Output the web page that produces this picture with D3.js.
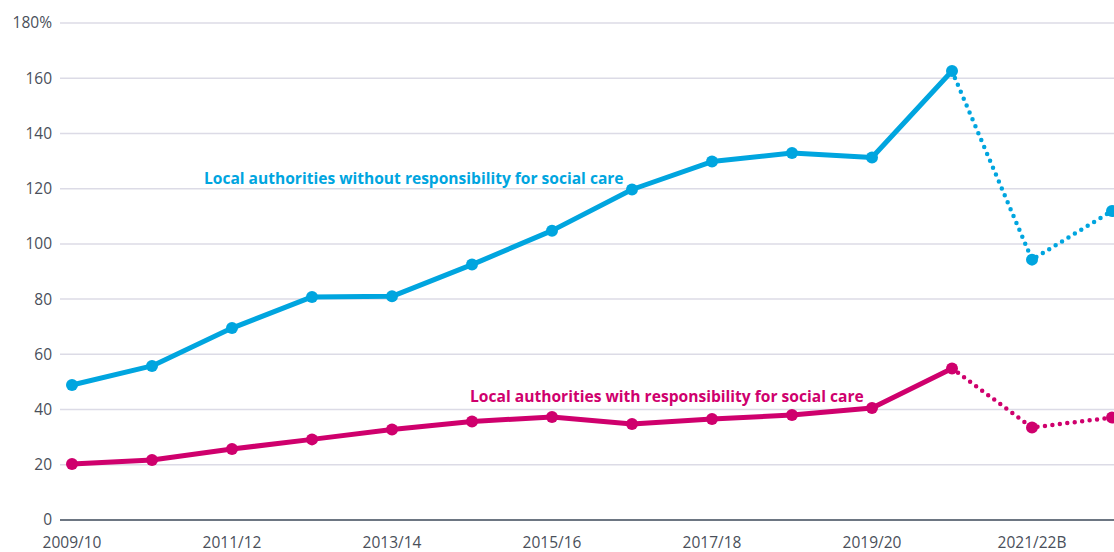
<!DOCTYPE html>
<html><head><meta charset="utf-8">
<script src="https://cdn.jsdelivr.net/npm/d3@7"></script>
<style>body{margin:0;background:#fff;}svg{display:block;font-family:"Open Sans",sans-serif;}</style>
</head><body><svg id="c" width="1114" height="552"></svg>
<script>
const categories = ["2009/10","2010/11","2011/12","2012/13","2013/14","2014/15","2015/16","2016/17","2017/18","2018/19","2019/20","2020/21","2021/22B","2022/23B"];
const tickLabels = ["2009/10","2011/12","2013/14","2015/16","2017/18","2019/20","2021/22B"];
const withoutCare = [48.9,55.8,69.5,80.8,81.0,92.5,104.8,119.7,129.8,132.9,131.3,162.6,94.3,111.9];
const withCare = [20.3,21.7,25.7,29.2,32.8,35.7,37.3,34.8,36.6,38.0,40.6,54.9,33.5,37.1];
const yTicks = [0,20,40,60,80,100,120,140,160,180];
const solidUntil = 11; // index of last solid point

const svg = d3.select("#c");
const x = d3.scalePoint().domain(categories).range([72,1112]);
const y = d3.scaleLinear().domain([0,180]).range([520,23]);
const blue = "#00a5df", pink = "#cf006d";

// grid
svg.append("g").selectAll("line").data(yTicks.filter(d=>d>0)).join("line")
  .attr("x1",60).attr("x2",1114).attr("y1",d=>y(d)).attr("y2",d=>y(d))
  .attr("stroke","#dcdbe6").attr("stroke-width",1.5);
svg.append("line").attr("x1",60).attr("x2",1114).attr("y1",y(0)).attr("y2",y(0))
  .attr("stroke","#3c4858").attr("stroke-width",1.5);

// y labels
svg.append("g").selectAll("text").data(yTicks).join("text")
  .attr("x",52).attr("y",d=>y(d)).attr("dy","0.35em").attr("text-anchor","end")
  .attr("fill","#4a4f5a").attr("font-size",15.5)
  .text(d=>d===180?"180%":d);

// x labels
svg.append("g").selectAll("text").data(tickLabels).join("text")
  .attr("x",d=>x(d)).attr("y",548).attr("text-anchor","middle")
  .attr("fill","#4a4f5a").attr("font-size",15.5).text(d=>d);

function drawSeries(vals,color){
  const pts = vals.map((v,i)=>[x(categories[i]),y(v)]);
  const line = d3.line();
  svg.append("path").attr("d",line(pts.slice(0,solidUntil+1)))
    .attr("fill","none").attr("stroke",color).attr("stroke-width",5).attr("stroke-linejoin","round");
  svg.append("path").attr("d",line(pts.slice(solidUntil)))
    .attr("fill","none").attr("stroke",color).attr("stroke-width",4.5)
    .attr("stroke-linecap","round").attr("stroke-dasharray","0,7.5");
  svg.append("g").selectAll("circle").data(pts).join("circle")
    .attr("cx",d=>d[0]).attr("cy",d=>d[1]).attr("r",6).attr("fill",color);
}
drawSeries(withoutCare,blue);
drawSeries(withCare,pink);

function fitLabel(x0,yb,w,color,txt){
  const t = svg.append("text").attr("x",x0).attr("y",yb).attr("fill",color)
    .attr("font-size",14).attr("font-weight","bold").text(txt);
  const nat = t.node().getComputedTextLength();
  t.attr("font-size",14*w/nat);
}
fitLabel(204,184,420,blue,"Local authorities without responsibility for social care");
fitLabel(470,402,394,pink,"Local authorities with responsibility for social care");
</script></body></html>
